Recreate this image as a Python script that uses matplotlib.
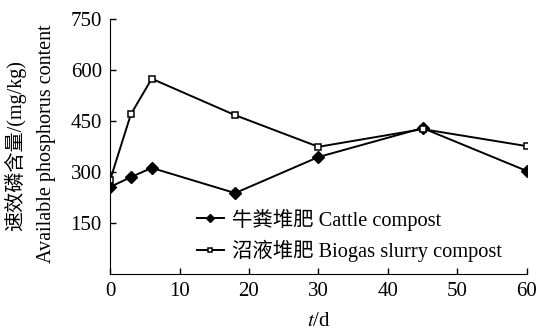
import matplotlib
matplotlib.use("Agg")
import matplotlib.pyplot as plt

# days of composting
days = [0, 3, 6, 18, 30, 45, 60]
cattle = [256, 285, 312, 238, 344, 429, 303]
biogas = [276, 470, 574, 467, 374, 426, 376]
labels = ["牛粪堆肥 Cattle compost", "沼液堆肥 Biogas slurry compost"]
xticks = [0, 10, 20, 30, 40, 50, 60]
yticks = [150, 300, 450, 600, 750]

plt.rcParams['font.family'] = ['Liberation Serif', 'Noto Sans CJK SC']
plt.rcParams['font.size'] = 14
plt.rcParams['mathtext.fontset'] = 'stix'

fig = plt.figure(figsize=(5.37, 3.31), dpi=100)
ax = fig.add_axes([0.205, 0.172, 0.776, 0.771])

ax.plot(days, cattle, color='black', lw=1.4, marker='D', ms=6,
        mfc='black', mec='black', label=labels[0])
ax.plot(days, biogas, color='black', lw=1.4, marker='s', ms=5,
        mfc='white', mec='black', mew=1.1, label=labels[1])

ax.set_xlim(0, 60)
ax.set_ylim(0, 750)
ax.set_xticks(xticks)
ax.set_yticks(yticks)
ax.spines['top'].set_visible(False)
ax.spines['right'].set_visible(False)
ax.tick_params(direction='in', length=4, width=1, labelsize=15)
ax.tick_params(axis='x', pad=6)
ax.tick_params(axis='y', pad=6)

fig.text(0.594, (331 - 321) / 331, r"$t$/d", fontsize=15, ha='center', va='center')
fig.text(15 / 537, 1 - 146 / 331, "速效磷含量/(mg/kg)", fontsize=14.5,
         rotation=90, ha='center', va='center')
fig.text(47 / 537, 1 - 144 / 331, "Available phosphorus content", fontsize=14.5,
         rotation=90, ha='center', va='center')

ax.legend(loc='lower left', bbox_to_anchor=(0.188, 0.015), frameon=False,
          fontsize=14.7, handlelength=1.35, handletextpad=0.4, labelspacing=0.45,
          borderaxespad=0, markerscale=0.7)

fig.savefig("out.png", dpi=100)
